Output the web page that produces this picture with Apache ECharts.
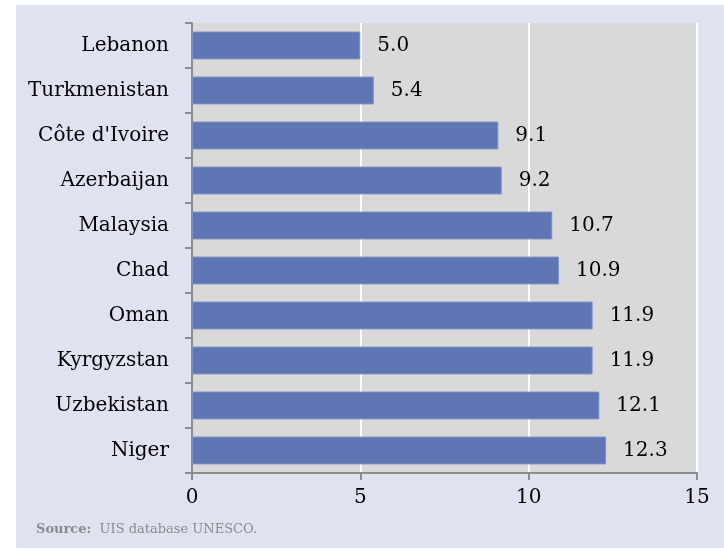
<!DOCTYPE html>
<html><head><meta charset="utf-8">
<script src="https://cdn.jsdelivr.net/npm/echarts@6/dist/echarts.min.js"></script>
<style>html,body{margin:0;padding:0;background:#fff}#c{width:724px;height:549px}</style>
</head><body><div id="c"></div>
<script>
const categories = ["Lebanon","Turkmenistan","Côte d'Ivoire","Azerbaijan","Malaysia","Chad","Oman","Kyrgyzstan","Uzbekistan","Niger"];
const values = [5.0,5.4,9.1,9.2,10.7,10.9,11.9,11.9,12.1,12.3];
const xTicks = [0,5,10,15];
const FONT = "'DejaVu Serif', serif";
const chart = echarts.init(document.getElementById('c'));
chart.setOption({
  animation:false,
  backgroundColor:'#ffffff',
  graphic:[
    {type:'rect',z:-10,shape:{x:16,y:5,width:708,height:543},style:{fill:'#dfe3f0'}},
    {type:'text',left:36,top:523,style:{text:'{b|Source:}  UIS database UNESCO.',fill:'#8a8a8a',font:"13px 'DejaVu Serif', serif",rich:{b:{fontWeight:'bold',fill:'#8a8a8a',fontSize:13,fontFamily:"'DejaVu Serif', serif"}}}}
  ],
  grid:{left:192,right:27,top:23,bottom:76,show:true,backgroundColor:'#d9d9d9',borderWidth:0},
  xAxis:{type:'value',min:0,max:15,interval:5,
    axisLine:{show:true,lineStyle:{color:'#8c8c8c',width:2}},
    axisTick:{show:true,length:7,lineStyle:{color:'#8c8c8c',width:2}},
    axisLabel:{color:'#000',fontSize:20,fontFamily:FONT,margin:15,formatter:v=>xTicks.includes(v)?String(v):''},
    splitLine:{show:true,lineStyle:{color:'#ffffff',width:2}}
  },
  yAxis:{type:'category',data:categories,inverse:true,
    axisLine:{show:true,lineStyle:{color:'#8c8c8c',width:2}},
    axisTick:{show:true,length:7,lineStyle:{color:'#8c8c8c',width:2}},
    axisLabel:{color:'#000',fontSize:20,fontFamily:FONT,margin:23}
  },
  series:[{type:'bar',data:values,barCategoryGap:'38%',
    itemStyle:{color:'#5f75b4',borderColor:'#7f90c4',borderWidth:1},
    label:{show:true,position:'right',distance:17,color:'#000',fontSize:20,fontFamily:FONT,formatter:p=>p.value.toFixed(1)}
  }]
});
</script></body></html>
